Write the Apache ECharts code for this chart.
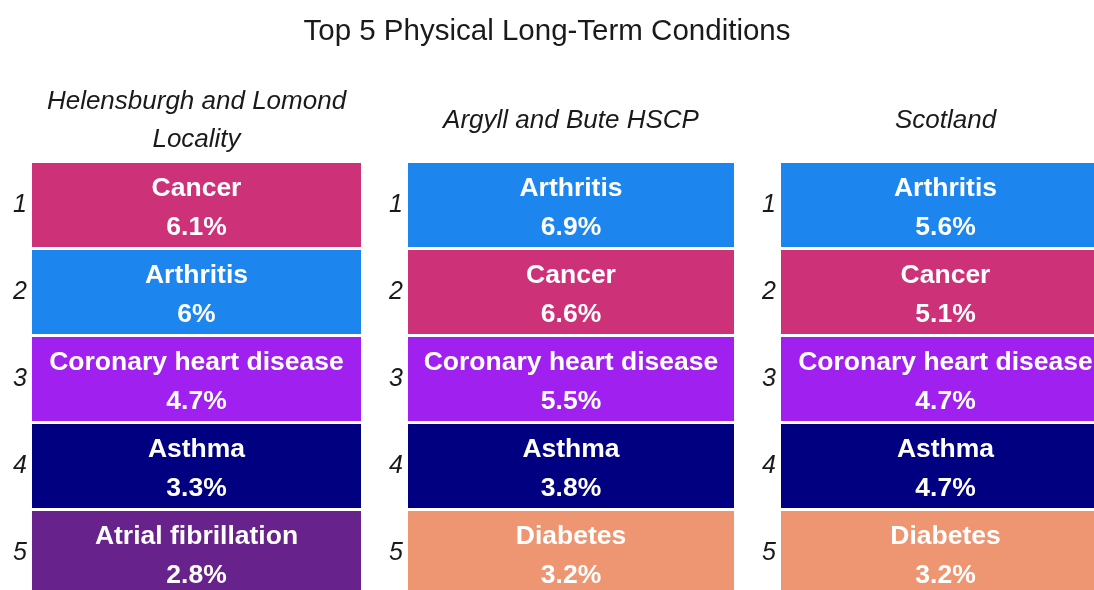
<!DOCTYPE html>
<html>
<head>
<meta charset="utf-8">
<script src="https://cdn.jsdelivr.net/npm/echarts@6/dist/echarts.min.js"></script>
<style>
html,body{margin:0;padding:0;background:#fff;}
#chart{width:1094px;height:590px;}
</style>
</head>
<body>
<div id="chart"></div>
<script>
// ---- data ----
const chartTitle = 'Top 5 Physical Long-Term Conditions';
const ranks = ['1', '2', '3', '4', '5'];
const areaNames = ['Helensburgh and Lomond\nLocality', 'Argyll and Bute HSCP', 'Scotland'];
const helensburghConditions = ['Cancer', 'Arthritis', 'Coronary heart disease', 'Asthma', 'Atrial fibrillation'];
const helensburghValues = [6.1, 6, 4.7, 3.3, 2.8];
const argyllConditions = ['Arthritis', 'Cancer', 'Coronary heart disease', 'Asthma', 'Diabetes'];
const argyllValues = [6.9, 6.6, 5.5, 3.8, 3.2];
const scotlandConditions = ['Arthritis', 'Cancer', 'Coronary heart disease', 'Asthma', 'Diabetes'];
const scotlandValues = [5.6, 5.1, 4.7, 4.7, 3.2];

// ---- styles ----
const conditionColors = {
  'Cancer': '#CD3278',
  'Arthritis': '#1C86EE',
  'Coronary heart disease': '#A020F0',
  'Asthma': '#000080',
  'Atrial fibrillation': '#68228B',
  'Diabetes': '#EE9572'
};
const FONT = '"Liberation Sans", Arial, Helvetica, sans-serif';
const columns = [
  { conds: helensburghConditions, vals: helensburghValues, left: 32, width: 329 },
  { conds: argyllConditions, vals: argyllValues, left: 408, width: 326 },
  { conds: scotlandConditions, vals: scotlandValues, left: 781, width: 329 }
];

const grids = [], xAxes = [], yAxes = [], series = [];
columns.forEach((col, i) => {
  grids.push({ left: col.left, width: col.width, top: 161.5, height: 435, outerBoundsMode: 'none', containLabel: false });
  xAxes.push({
    type: 'category', gridIndex: i, position: 'top', data: [areaNames[i]],
    axisLine: { show: false }, axisTick: { show: false }, splitLine: { show: false },
    axisLabel: {
      margin: 41, verticalAlign: 'middle', fontFamily: FONT, fontSize: 26, fontStyle: 'italic',
      color: '#1a1a1a', lineHeight: 38, interval: 0
    }
  });
  yAxes.push({
    type: 'category', gridIndex: i, inverse: true, data: ranks,
    axisLine: { show: false }, axisTick: { show: false }, splitLine: { show: false },
    axisLabel: { margin: 5, fontFamily: FONT, fontSize: 25, fontStyle: 'italic', color: '#1a1a1a' }
  });
  series.push({
    type: 'custom', xAxisIndex: i, yAxisIndex: i,
    data: col.vals.map((v, r) => [0, r, v, col.conds[r]]),
    encode: { x: 0, y: 1 },
    renderItem: function (params, api) {
      const idx = params.dataIndex;
      const c = api.coord([api.value(0), api.value(1)]);
      const s = api.size([1, 1]);
      const name = col.conds[idx];
      const val = col.vals[idx];
      return {
        type: 'rect',
        shape: { x: c[0] - s[0] / 2, y: c[1] - s[1] / 2 + 1.5, width: s[0], height: s[1] - 3 },
        style: { fill: conditionColors[name] },
        textContent: {
          style: {
            text: name + '\n' + val + '%',
            fill: '#ffffff', fontFamily: FONT, fontWeight: 'bold', fontSize: 26.5,
            lineHeight: 39, align: 'center', verticalAlign: 'middle'
          }
        },
        textConfig: { position: 'inside', offset: [0, 3] }
      };
    }
  });
});

const chart = echarts.init(document.getElementById('chart'), null, { renderer: 'canvas' });
chart.setOption({
  backgroundColor: '#ffffff',
  animation: false,
  title: {
    text: chartTitle, left: 'center', top: 12,
    textStyle: { fontFamily: FONT, fontSize: 29.5, fontWeight: 'normal', color: '#1a1a1a' }
  },
  grid: grids,
  xAxis: xAxes,
  yAxis: yAxes,
  series: series
});
</script>
</body>
</html>
